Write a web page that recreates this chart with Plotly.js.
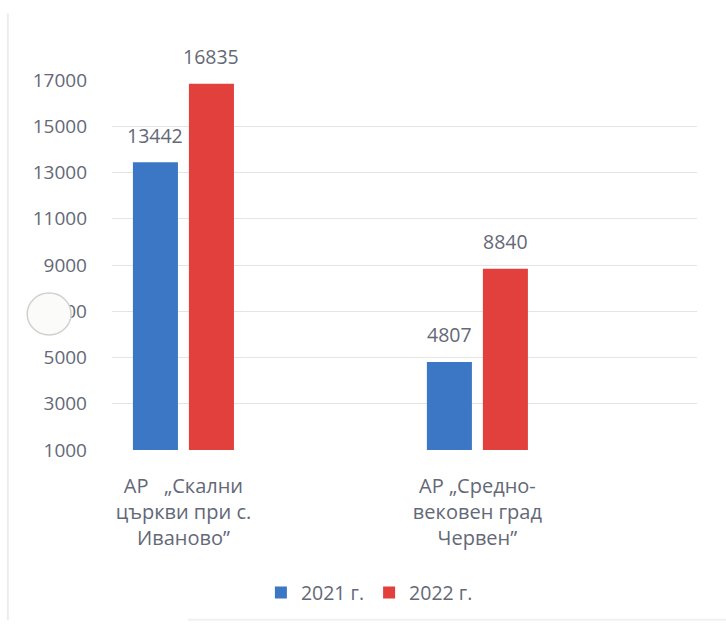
<!DOCTYPE html>
<html>
<head>
<meta charset="utf-8">
<script src="https://cdn.plot.ly/plotly-3.0.1.min.js"></script>
<style>html,body{margin:0;padding:0;background:#fff;}#chart{width:726px;height:625px;}</style>
</head>
<body>
<div id="chart"></div>
<script>
// ---- data ----
var categories = [
  "АР\u00a0\u00a0\u00a0„Скални<br>църкви при с.<br>Иваново”",
  "АР „Средно-<br>вековен град<br>Червен”"
];
var seriesNames = ["2021 г.", "2022 г."];
var values2021 = [13442, 4807];
var values2022 = [16835, 8840];
var yTicks = [1000, 3000, 5000, 7000, 9000, 11000, 13000, 15000, 17000];

var colors = ["#3c77c5", "#e2403d"];
var textColor = "#646877";
var fontFam = "'Open Sans', 'Noto Sans', 'DejaVu Sans', sans-serif";

var seriesValues = [values2021, values2022];
var traces = seriesValues.map(function (vals, i) {
  return {
    type: "bar",
    name: seriesNames[i],
    x: categories,
    y: vals,
    marker: { color: colors[i] },
    hoverinfo: "x+y"
  };
});

// data labels as annotations, offset per series within the group
var shifts = [-28, 28];
var annotations = [];
seriesValues.forEach(function (vals, i) {
  vals.forEach(function (v, j) {
    annotations.push({
      x: categories[j], y: v, xref: "x", yref: "y",
      text: String(v), showarrow: false,
      xshift: shifts[i], yshift: 27, yanchor: "middle",
      font: { family: fontFam, size: 19.5, color: textColor }
    });
  });
});

var layout = {
  width: 726, height: 625,
  margin: { l: 112, r: 29, t: 80, b: 175 },
  paper_bgcolor: "#ffffff", plot_bgcolor: "#ffffff",
  barmode: "group", bargap: 0.619, bargroupgap: 0.196,
  font: { family: fontFam, size: 20, color: textColor },
  xaxis: {
    type: "category",
    range: [-0.243, 1.747],
    showgrid: false, zeroline: false, showline: false,
    ticks: "", ticklabelstandoff: 22,
    tickfont: { family: fontFam, size: 20, color: textColor }
  },
  yaxis: {
    range: [1000, 17000],
    tickvals: yTicks, ticktext: yTicks.map(String),
    showgrid: true, gridcolor: "#e4e4e4", gridwidth: 1,
    zeroline: false, showline: false, ticks: "",
    ticklabelstandoff: 24,
    tickfont: { family: fontFam, size: 19, color: textColor }
  },
  showlegend: true,
  legend: {
    orientation: "h", x: 0.44, xanchor: "center", y: -0.386, yanchor: "middle",
    font: { family: fontFam, size: 19.5, color: textColor },
    itemwidth: 30, traceorder: "normal"
  },
  annotations: annotations,
  shapes: [
    { type: "line", xref: "paper", yref: "paper", x0: -0.178, x1: -0.178, y0: -0.46, y1: 1.18,
      line: { color: "#ececec", width: 2 } },
    { type: "line", xref: "paper", yref: "paper", x0: 0.13, x1: 1.05, y0: -0.459, y1: -0.459,
      line: { color: "#f0f0f0", width: 2 } },
    { type: "circle", xref: "paper", yref: "paper", x0: -0.145, x1: -0.070, y0: 0.311, y1: 0.424,
      fillcolor: "#fbfbfa", line: { color: "#d0d0ce", width: 1.5 }, layer: "above" }
  ]
};

Plotly.newPlot("chart", traces, layout, { displayModeBar: false, staticPlot: true });
</script>
</body>
</html>
